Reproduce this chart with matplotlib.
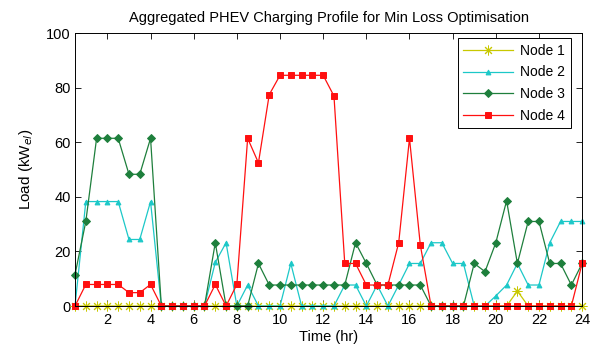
import numpy as np
import matplotlib
matplotlib.use('Agg')
import matplotlib.pyplot as plt

plt.rcParams['font.family'] = ['Liberation Sans', 'DejaVu Sans']

# half-hour slots from 0.5 to 24 hr
hours = np.arange(1, 49) * 0.5

node1 = [0] * 41 + [5.5] + [0] * 6

node2 = [0, 38.3, 38.3, 38.3, 38.3, 24.4, 24.4, 38.3, 0, 0,
         0, 0, 0, 16, 23.2, 0, 7.7, 0, 0, 0,
         15.6, 0, 0, 0, 0, 7.7, 7.7, 0, 7.7, 0,
         7.7, 15.6, 15.6, 23.2, 23.2, 15.6, 15.6, 0, 0, 3.7,
         7.7, 15.6, 7.7, 7.7, 23.2, 31, 31, 31]

node3 = [11.5, 31, 61.5, 61.5, 61.5, 48.3, 48.3, 61.5, 0, 0,
         0, 0, 0, 23.2, 0, 0, 0, 15.6, 7.7, 7.7,
         7.7, 7.7, 7.7, 7.7, 7.7, 7.7, 23.2, 15.6, 7.7, 7.7,
         7.7, 7.7, 7.7, 0, 0, 0, 0, 15.6, 12.6, 23.2,
         38.6, 15.6, 31, 31, 15.6, 15.6, 7.7, 15.6]

node4 = [0, 7.9, 7.9, 7.9, 7.9, 4.9, 4.9, 7.9, 0, 0,
         0, 0, 0, 7.9, 0, 7.9, 61.5, 52.5, 77.5, 84.6,
         84.6, 84.6, 84.6, 84.6, 77, 15.6, 15.6, 7.7, 7.7, 7.7,
         23.2, 61.5, 22.5, 0, 0, 0, 0, 0, 0, 0,
         0, 0, 0, 0, 0, 0, 0, 15.6]

labels = ["Node 1", "Node 2", "Node 3", "Node 4"]
series = [node1, node2, node3, node4]
colors = ["#c8c800", "#1cc8c8", "#1e7f3c", "#ff1010"]
markers = [(8, 2, 0), "^", "D", "s"]   # matlab style asterisk for node 1
msizes = [7, 3.5, 4, 4.5]

fig = plt.figure(figsize=(5.94, 3.45), dpi=100)
ax = fig.add_axes([0.1263, 0.113, 0.8537, 0.7905])

for data, lab, clr, mk, ms in zip(series, labels, colors, markers, msizes):
    ax.plot(hours, data, color=clr, marker=mk, markersize=ms, lw=0.9,
            markeredgewidth=0.7, label=lab, clip_on=False)

ax.set_xlim(0.5, 24)
ax.set_ylim(0, 100)
ax.set_xticks(np.arange(2, 25, 2))
ax.set_yticks(np.arange(0, 101, 20))
ax.tick_params(direction='in', top=True, right=True, labelsize=10.5, length=4, width=0.6)
ax.tick_params(axis='x', pad=5)
ax.tick_params(axis='y', pad=3)
for sp in ax.spines.values():
    sp.set_linewidth(0.7)

ax.set_title("Aggregated PHEV Charging Profile for Min Loss Optimisation", fontsize=10.5, pad=8)
ax.set_xlabel("Time (hr)", fontsize=10.5, labelpad=2)
ax.set_ylabel("Load (kW$_{el}$)", fontsize=11, labelpad=8)

leg = ax.legend(loc='upper right', fontsize=10, fancybox=False, framealpha=1,
                edgecolor='black', handlelength=3.6, handletextpad=0.5,
                labelspacing=0.55, borderpad=0.4, borderaxespad=0,
                bbox_to_anchor=(0.978, 0.982))
leg.get_frame().set_linewidth(0.7)

plt.savefig("out.png")
plt.close()
